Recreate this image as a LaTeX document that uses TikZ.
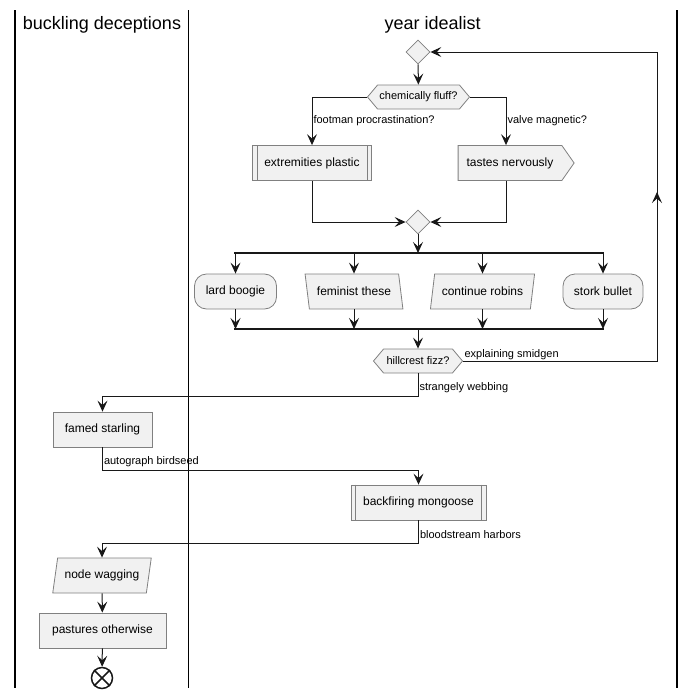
\documentclass[tikz,border=0pt]{standalone}
\usepackage{fontspec}
\setmainfont{Liberation Sans}
\usetikzlibrary{shapes.geometric,shapes.symbols,arrows.meta}

\definecolor{actfill}{HTML}{F1F1F1}
\definecolor{actline}{HTML}{181818}
\definecolor{boxline}{HTML}{808080}

\begin{document}
\begin{tikzpicture}[x=1pt,y=-1pt,
    move/.style={-{Stealth[length=11pt,width=10pt,inset=4.5pt]},line width=1pt,draw=actline},
    link/.style={line width=1pt,draw=actline},
    bar/.style={line width=2.2pt,draw=actline},
    lane/.style={line width=1.6pt,draw=black},
    act/.style={draw=boxline,fill=actfill,line width=0.8pt,minimum height=35pt,inner xsep=0pt,font=\fontsize{12}{14}\selectfont},
    rnd/.style={act,rounded corners=12pt},
    slantl/.style={act,trapezium,trapezium left angle=103,trapezium right angle=77,trapezium stretches=true},
    slantr/.style={act,trapezium,trapezium left angle=77,trapezium right angle=103,trapezium stretches=true},
    hexa/.style={act,signal,signal to=west and east,signal pointer angle=100,minimum height=24pt,font=\fontsize{11}{13}\selectfont},
    merge/.style={draw=boxline,fill=actfill,line width=0.8pt,diamond,inner sep=0pt,minimum width=24pt,minimum height=24pt},
    lbl/.style={font=\fontsize{11}{13}\selectfont,inner sep=1pt},
    head/.style={font=\fontsize{18}{22}\selectfont}]

    \useasboundingbox (0,0) rectangle (694,699);

    % swimlanes
    \draw[lane] (15,10) -- (15,688);
    \draw[lane] (188.5,10) -- (188.5,688);
    \draw[lane] (677,10) -- (677,688);
    \node[head] (hbuck) at (102,25) {buckling deceptions};
    \node[head] (hyear) at (432.75,25) {year idealist};

    % repeat loop
    \node[merge] (mtop) at (418,52) {};
    \node[hexa,minimum width=102pt] (fluff) at (418.5,97) {chemically fluff?};
    \node[act,minimum width=119pt] (extr) at (312,163) {extremities plastic};
    \node[act,signal,signal to=east,signal pointer angle=110,minimum width=116pt] (tastes) at (510,163) {tastes nervously};
    \coordinate (tastesx) at (506,0);
    \node[merge] (mmid) at (418,222) {};

    \coordinate (fork1w) at (234,253);
    \coordinate (fork1e) at (604,253);
    \node[rnd,minimum width=82pt] (lard) at (235.5,291.5) {lard boogie};
    \node[slantl,minimum width=98pt] (femin) at (354,291.5) {feminist these};
    \node[slantr,minimum width=105pt] (contr) at (482.5,291.5) {continue robins};
    \node[rnd,minimum width=80pt] (stork) at (603,291.5) {stork bullet};
    \coordinate (join1w) at (234,329);
    \coordinate (join1e) at (604,329);

    \node[hexa,minimum width=89pt] (hill) at (418,361) {hillcrest fizz?};
    \coordinate (ret1) at (657,361);
    \coordinate (retmid) at (657,192);
    \coordinate (ret2) at (657,52);

    % after the loop
    \node[act,minimum width=99pt] (famed) at (102.5,429.5) {famed starling};
    \node[act,minimum width=135pt] (backf) at (418.5,502.5) {backfiring mongoose};
    \node[slantr,minimum width=99pt] (nodew) at (102,575.5) {node wagging};
    \node[act,minimum width=127pt] (past) at (102.5,630.5) {pastures otherwise};
    \node[circle,draw=actline,line width=1.5pt,minimum size=21pt,inner sep=0pt] (stop) at (102,678) {};

    % subroutine edges
    \draw[boxline,line width=0.8pt] ([xshift=5pt]extr.north west) -- ([xshift=5pt]extr.south west);
    \draw[boxline,line width=0.8pt] ([xshift=-5pt]extr.north east) -- ([xshift=-5pt]extr.south east);
    \draw[boxline,line width=0.8pt] ([xshift=5pt]backf.north west) -- ([xshift=5pt]backf.south west);
    \draw[boxline,line width=0.8pt] ([xshift=-5pt]backf.north east) -- ([xshift=-5pt]backf.south east);
    \draw[actline,line width=1.5pt] (stop.45) -- (stop.225);
    \draw[actline,line width=1.5pt] (stop.135) -- (stop.315);

    \path[move] (mtop) -- (fluff);
    \path[move] (fluff.west) -| (extr.north) node[pos=0.75,right,lbl] {footman procrastination?};
    \path[move] (fluff.east) -| (tastes.north -| tastesx) node[pos=0.75,right,lbl] {valve magnetic?};
    \path[move] (extr.south) |- (mmid.west);
    \path[move] (tastes.south -| tastesx) |- (mmid.east);
    \path[move] (mmid) -- (mmid |- fork1w);
    \path[bar] (fork1w) -- (fork1e);
    \path[move] (lard.north |- fork1w) -- (lard.north);
    \path[move] (femin.north |- fork1w) -- (femin.north);
    \path[move] (contr.north |- fork1w) -- (contr.north);
    \path[move] (stork.north |- fork1w) -- (stork.north);
    \path[move] (lard.south) -- (lard.south |- join1w);
    \path[move] (femin.south) -- (femin.south |- join1w);
    \path[move] (contr.south) -- (contr.south |- join1w);
    \path[move] (stork.south) -- (stork.south |- join1w);
    \path[bar] (join1w) -- (join1e);
    \path[move] (hill.north |- join1w) -- (hill.north);

    \path[link] (hill.east) -- node[pos=0,anchor=south west,lbl] {explaining smidgen} (ret1) -- (ret2);
    \path[move] (ret1) -- (retmid);
    \path[move] (ret2) -- (mtop.east);

    \path[move] (hill.south) -- node[pos=0.6,right,lbl] {strangely webbing} ++(0,23) -| (famed.north);
    \path[move] (famed.south) -- node[pos=0.6,right,lbl] {autograph birdseed} ++(0,23) -| (backf.north);
    \path[move] (backf.south) -- node[pos=0.6,right,lbl] {bloodstream harbors} ++(0,23) -| (nodew.north);
    \path[move] (nodew) -- (past);
    \path[move] (past) -- (stop);

  \end{tikzpicture}
\end{document}
